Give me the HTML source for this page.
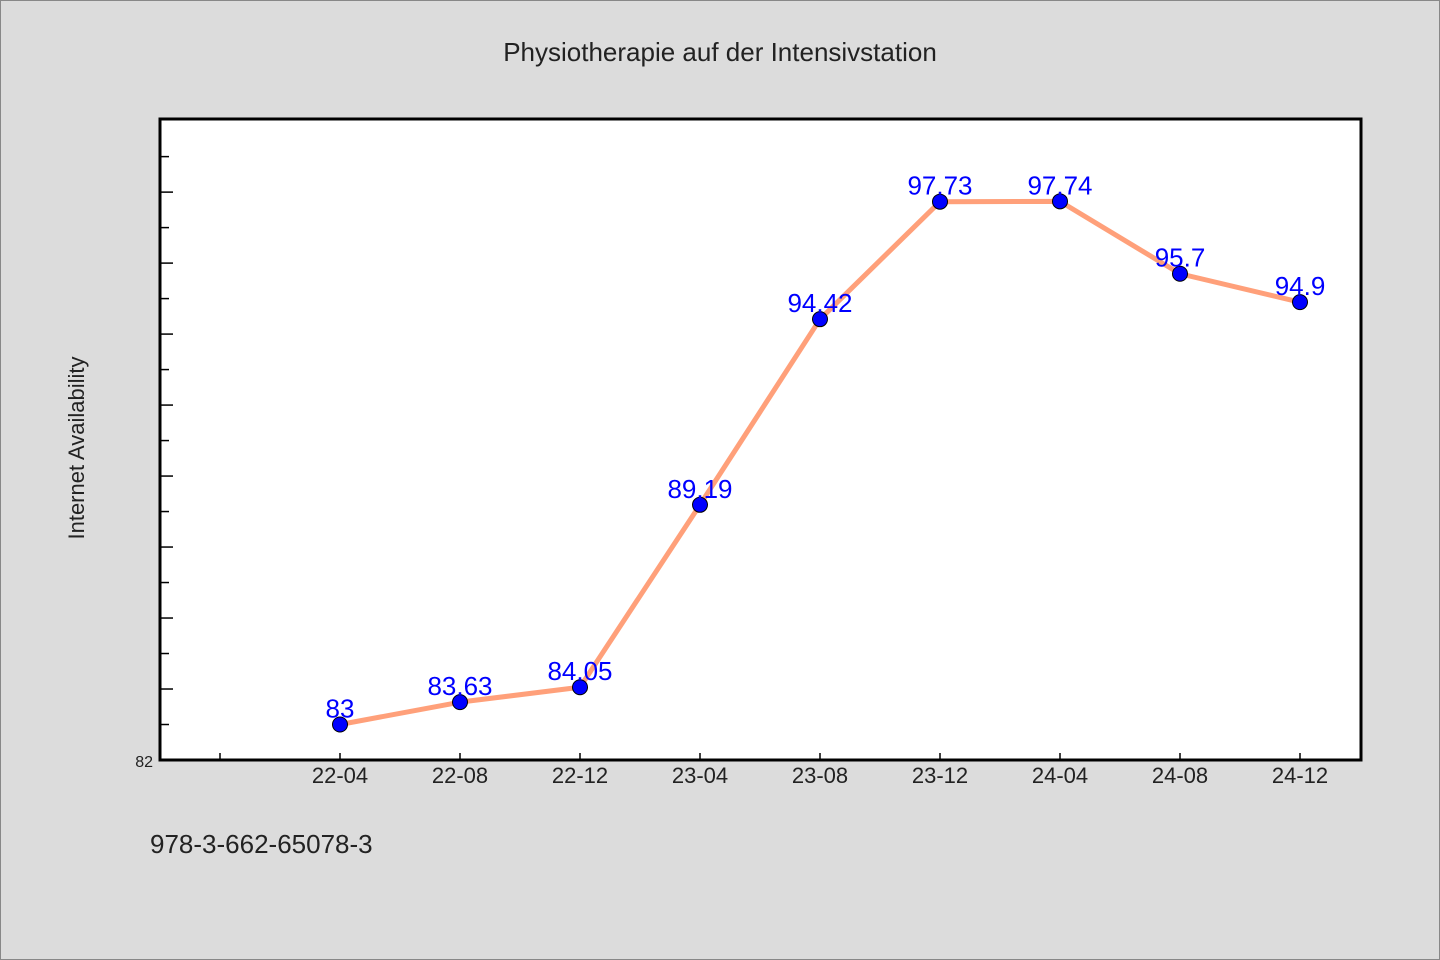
<!DOCTYPE html>
<html><head><meta charset="utf-8"><style>
html,body{margin:0;padding:0;background:#dcdcdc}
svg{display:block;font-family:"WenQuanYi Zen Hei","Liberation Sans",sans-serif}
</style></head><body>
<svg id="chart" width="1440" height="960" xmlns="http://www.w3.org/2000/svg">
<rect x="0.5" y="0.5" width="1439" height="959" fill="#dcdcdc" stroke="#888"/>
<text x="720" y="61" text-anchor="middle" font-size="26" fill="#222">Physiotherapie auf der Intensivstation</text>
<rect x="160" y="119" width="1201" height="641" fill="#fff" stroke="#000" stroke-width="3"/>
<text transform="translate(84,448) rotate(-90)" text-anchor="middle" font-size="22" fill="#222">Internet Availability</text>
<text x="150" y="853" font-size="26" fill="#222">978-3-662-65078-3</text>
<g id="yticks"></g><g id="xticks"></g><g id="series"></g>
</svg>
<script>
const categories=["22-04","22-08","22-12","23-04","23-08","23-12","24-04","24-08","24-12"];
const values=[83,83.63,84.05,89.19,94.42,97.73,97.74,95.7,94.9];
const labels=["83","83.63","84.05","89.19","94.42","97.73","97.74","95.7","94.9"];
const yMin=82,yMax=100.06;
const NS="http://www.w3.org/2000/svg";
function y(v){return 760-(v-yMin)/(yMax-yMin)*641;}
function x(k){return 220+120*k;}
function mk(t,a,p){const e=document.createElementNS(NS,t);for(const k in a)e.setAttribute(k,a[k]);p.appendChild(e);return e;}
const yt=document.getElementById('yticks');
for(let v=83;v<=99;v++){
 const l=mk('line',{x1:161,x2:v%2===0?173:169,y1:y(v),y2:y(v),stroke:'#000','stroke-width':1.5},yt);
 
 
}
const yl=mk('text',{x:153,y:y(82)+7,'text-anchor':'end','font-size':16,fill:'#222'},yt);
yl.textContent='82';


const xt=document.getElementById('xticks');
for(let k=0;k<=categories.length;k++){
 const l=mk('line',{x1:x(k),x2:x(k),y1:759,y2:753,stroke:'#000','stroke-width':1.5},xt);
 
 
 if(k>0){
  const t=mk('text',{x:x(k),y:783,'text-anchor':'middle','font-size':22,fill:'#222'},xt);
  t.textContent=categories[k-1];
  
  
 }
}
const s=document.getElementById('series');
const pts=values.map((v,i)=>x(i+1)+','+y(v)).join(' ');
const pl=mk('polyline',{points:pts,fill:'none',stroke:'#ffa07a','stroke-width':5,'stroke-linejoin':'round'},s);


values.forEach((v,i)=>{
 const c=mk('circle',{cx:x(i+1),cy:y(v),r:7.5,fill:'#0000ff',stroke:'#000','stroke-width':1},s);
 
 
 const t=mk('text',{x:x(i+1),y:y(v)-7,'text-anchor':'middle','font-size':26,fill:'#0000ff'},s);
 t.textContent=labels[i];
 
 
});
</script>
</body></html>
